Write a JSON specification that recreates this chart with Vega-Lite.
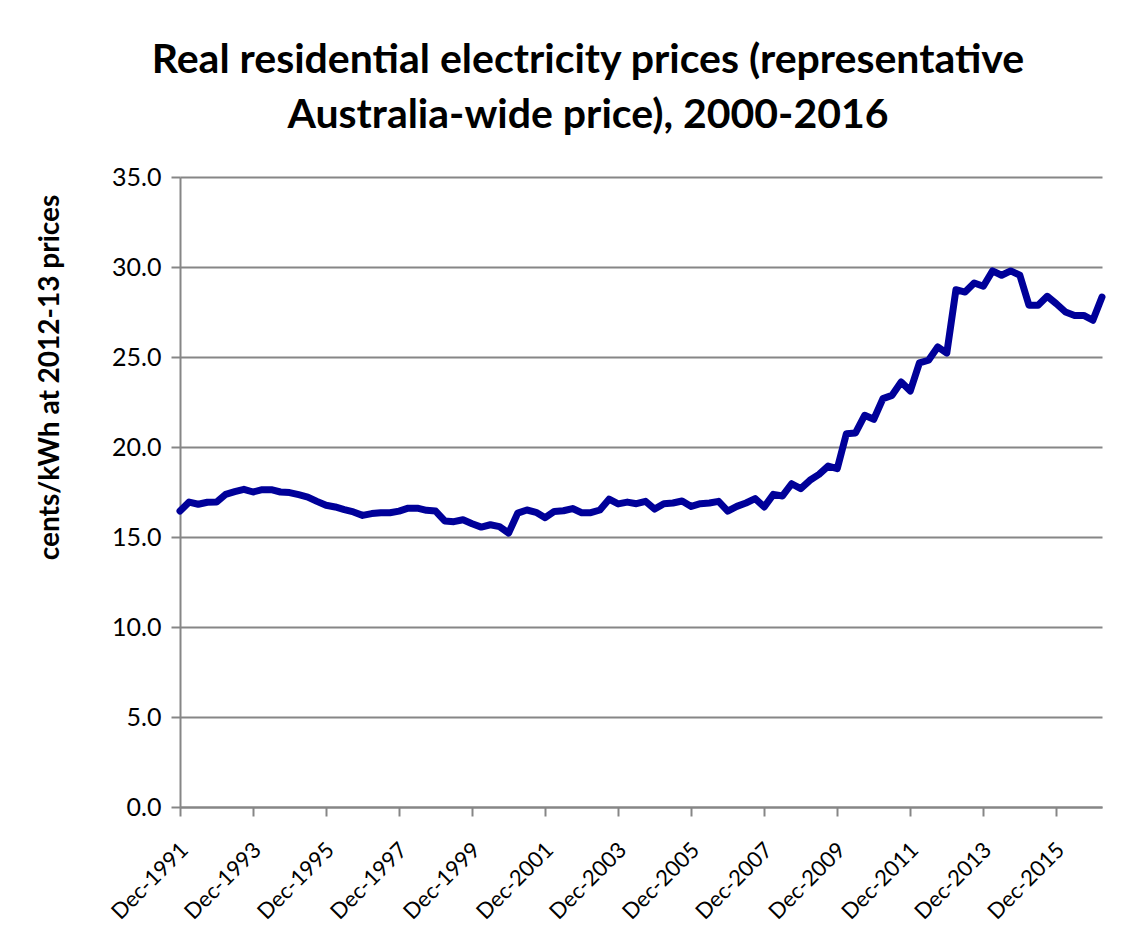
{
  "$schema": "https://vega.github.io/schema/vega-lite/v6.json",
  "autosize": "none",
  "width": 922,
  "height": 630,
  "padding": {"left": 180, "top": 177, "right": 44, "bottom": 139},
  "background": "white",
  "title": {
    "text": ["Real residential electricity prices (representative", "Australia-wide price), 2000-2016"],
    "font": "Lato",
    "fontSize": 41,
    "fontWeight": "bold",
    "color": "#000000",
    "anchor": "middle",
    "frame": "group",
    "dx": -53,
    "offset": 28,
    "lineHeight": 55
  },
  "data": {
    "values": [
      {"q": "Dec-1991", "v": 16.44},
      {"q": "Mar-1992", "v": 16.94},
      {"q": "Jun-1992", "v": 16.82},
      {"q": "Sep-1992", "v": 16.93},
      {"q": "Dec-1992", "v": 16.94},
      {"q": "Mar-1993", "v": 17.37},
      {"q": "Jun-1993", "v": 17.52},
      {"q": "Sep-1993", "v": 17.65},
      {"q": "Dec-1993", "v": 17.50},
      {"q": "Mar-1994", "v": 17.63},
      {"q": "Jun-1994", "v": 17.63},
      {"q": "Sep-1994", "v": 17.50},
      {"q": "Dec-1994", "v": 17.47},
      {"q": "Mar-1995", "v": 17.35},
      {"q": "Jun-1995", "v": 17.22},
      {"q": "Sep-1995", "v": 16.98},
      {"q": "Dec-1995", "v": 16.76},
      {"q": "Mar-1996", "v": 16.67},
      {"q": "Jun-1996", "v": 16.52},
      {"q": "Sep-1996", "v": 16.39},
      {"q": "Dec-1996", "v": 16.20},
      {"q": "Mar-1997", "v": 16.30},
      {"q": "Jun-1997", "v": 16.35},
      {"q": "Sep-1997", "v": 16.35},
      {"q": "Dec-1997", "v": 16.44},
      {"q": "Mar-1998", "v": 16.60},
      {"q": "Jun-1998", "v": 16.60},
      {"q": "Sep-1998", "v": 16.48},
      {"q": "Dec-1998", "v": 16.44},
      {"q": "Mar-1999", "v": 15.89},
      {"q": "Jun-1999", "v": 15.85},
      {"q": "Sep-1999", "v": 15.96},
      {"q": "Dec-1999", "v": 15.74},
      {"q": "Mar-2000", "v": 15.55},
      {"q": "Jun-2000", "v": 15.68},
      {"q": "Sep-2000", "v": 15.58},
      {"q": "Dec-2000", "v": 15.22},
      {"q": "Mar-2001", "v": 16.33},
      {"q": "Jun-2001", "v": 16.50},
      {"q": "Sep-2001", "v": 16.37},
      {"q": "Dec-2001", "v": 16.07},
      {"q": "Mar-2002", "v": 16.42},
      {"q": "Jun-2002", "v": 16.46},
      {"q": "Sep-2002", "v": 16.58},
      {"q": "Dec-2002", "v": 16.35},
      {"q": "Mar-2003", "v": 16.35},
      {"q": "Jun-2003", "v": 16.50},
      {"q": "Sep-2003", "v": 17.10},
      {"q": "Dec-2003", "v": 16.84},
      {"q": "Mar-2004", "v": 16.94},
      {"q": "Jun-2004", "v": 16.85},
      {"q": "Sep-2004", "v": 16.98},
      {"q": "Dec-2004", "v": 16.55},
      {"q": "Mar-2005", "v": 16.85},
      {"q": "Jun-2005", "v": 16.89},
      {"q": "Sep-2005", "v": 17.00},
      {"q": "Dec-2005", "v": 16.70},
      {"q": "Mar-2006", "v": 16.85},
      {"q": "Jun-2006", "v": 16.89},
      {"q": "Sep-2006", "v": 16.98},
      {"q": "Dec-2006", "v": 16.44},
      {"q": "Mar-2007", "v": 16.70},
      {"q": "Jun-2007", "v": 16.89},
      {"q": "Sep-2007", "v": 17.13},
      {"q": "Dec-2007", "v": 16.67},
      {"q": "Mar-2008", "v": 17.37},
      {"q": "Jun-2008", "v": 17.28},
      {"q": "Sep-2008", "v": 17.96},
      {"q": "Dec-2008", "v": 17.69},
      {"q": "Mar-2009", "v": 18.15},
      {"q": "Jun-2009", "v": 18.48},
      {"q": "Sep-2009", "v": 18.94},
      {"q": "Dec-2009", "v": 18.80},
      {"q": "Mar-2010", "v": 20.74},
      {"q": "Jun-2010", "v": 20.78},
      {"q": "Sep-2010", "v": 21.76},
      {"q": "Dec-2010", "v": 21.54},
      {"q": "Mar-2011", "v": 22.69},
      {"q": "Jun-2011", "v": 22.87},
      {"q": "Sep-2011", "v": 23.61},
      {"q": "Dec-2011", "v": 23.11},
      {"q": "Mar-2012", "v": 24.67},
      {"q": "Jun-2012", "v": 24.82},
      {"q": "Sep-2012", "v": 25.56},
      {"q": "Dec-2012", "v": 25.22},
      {"q": "Mar-2013", "v": 28.74},
      {"q": "Jun-2013", "v": 28.61},
      {"q": "Sep-2013", "v": 29.11},
      {"q": "Dec-2013", "v": 28.93},
      {"q": "Mar-2014", "v": 29.78},
      {"q": "Jun-2014", "v": 29.54},
      {"q": "Sep-2014", "v": 29.78},
      {"q": "Dec-2014", "v": 29.54},
      {"q": "Mar-2015", "v": 27.87},
      {"q": "Jun-2015", "v": 27.87},
      {"q": "Sep-2015", "v": 28.37},
      {"q": "Dec-2015", "v": 27.96},
      {"q": "Mar-2016", "v": 27.50},
      {"q": "Jun-2016", "v": 27.31},
      {"q": "Sep-2016", "v": 27.31},
      {"q": "Dec-2016", "v": 27.04},
      {"q": "Mar-2017", "v": 28.33}
    ]
  },
  "mark": {
    "type": "line",
    "color": "#000099",
    "strokeWidth": 7,
    "strokeJoin": "round",
    "strokeCap": "round"
  },
  "encoding": {
    "x": {
      "field": "q",
      "type": "ordinal",
      "sort": null,
      "scale": {"type": "point", "padding": 0},
      "axis": {
        "title": null,
        "values": ["Dec-1991", "Dec-1993", "Dec-1995", "Dec-1997", "Dec-1999", "Dec-2001", "Dec-2003", "Dec-2005", "Dec-2007", "Dec-2009", "Dec-2011", "Dec-2013", "Dec-2015"],
        "labelAngle": -45,
        "labelAlign": "right",
        "labelBaseline": "top",
        "labelOffset": -3,
        "labelFont": "Lato",
        "labelFontSize": 22,
        "labelColor": "#000000",
        "labelPadding": 23,
        "tickSize": 9,
        "tickWidth": 2,
        "tickColor": "#868686",
        "domainColor": "#868686",
        "domainWidth": 2,
        "grid": false
      }
    },
    "y": {
      "field": "v",
      "type": "quantitative",
      "scale": {"domain": [0, 35], "nice": false, "zero": true},
      "axis": {
        "title": "cents/kWh at 2012-13 prices",
        "titleFont": "Lato",
        "titleFontSize": 28,
        "titleFontWeight": "bold",
        "titleColor": "#000000",
        "titleX": -116,
        "titleY": 200,
        "values": [0, 5, 10, 15, 20, 25, 30, 35],
        "format": ".1f",
        "labelFont": "Lato",
        "labelFontSize": 25,
        "labelColor": "#000000",
        "labelPadding": 10,
        "tickSize": 9,
        "tickWidth": 2,
        "tickColor": "#868686",
        "domainColor": "#868686",
        "domainWidth": 2,
        "grid": true,
        "gridColor": "#868686",
        "gridWidth": 2
      }
    }
  },
  "config": {
    "view": {"stroke": null}
  }
}
